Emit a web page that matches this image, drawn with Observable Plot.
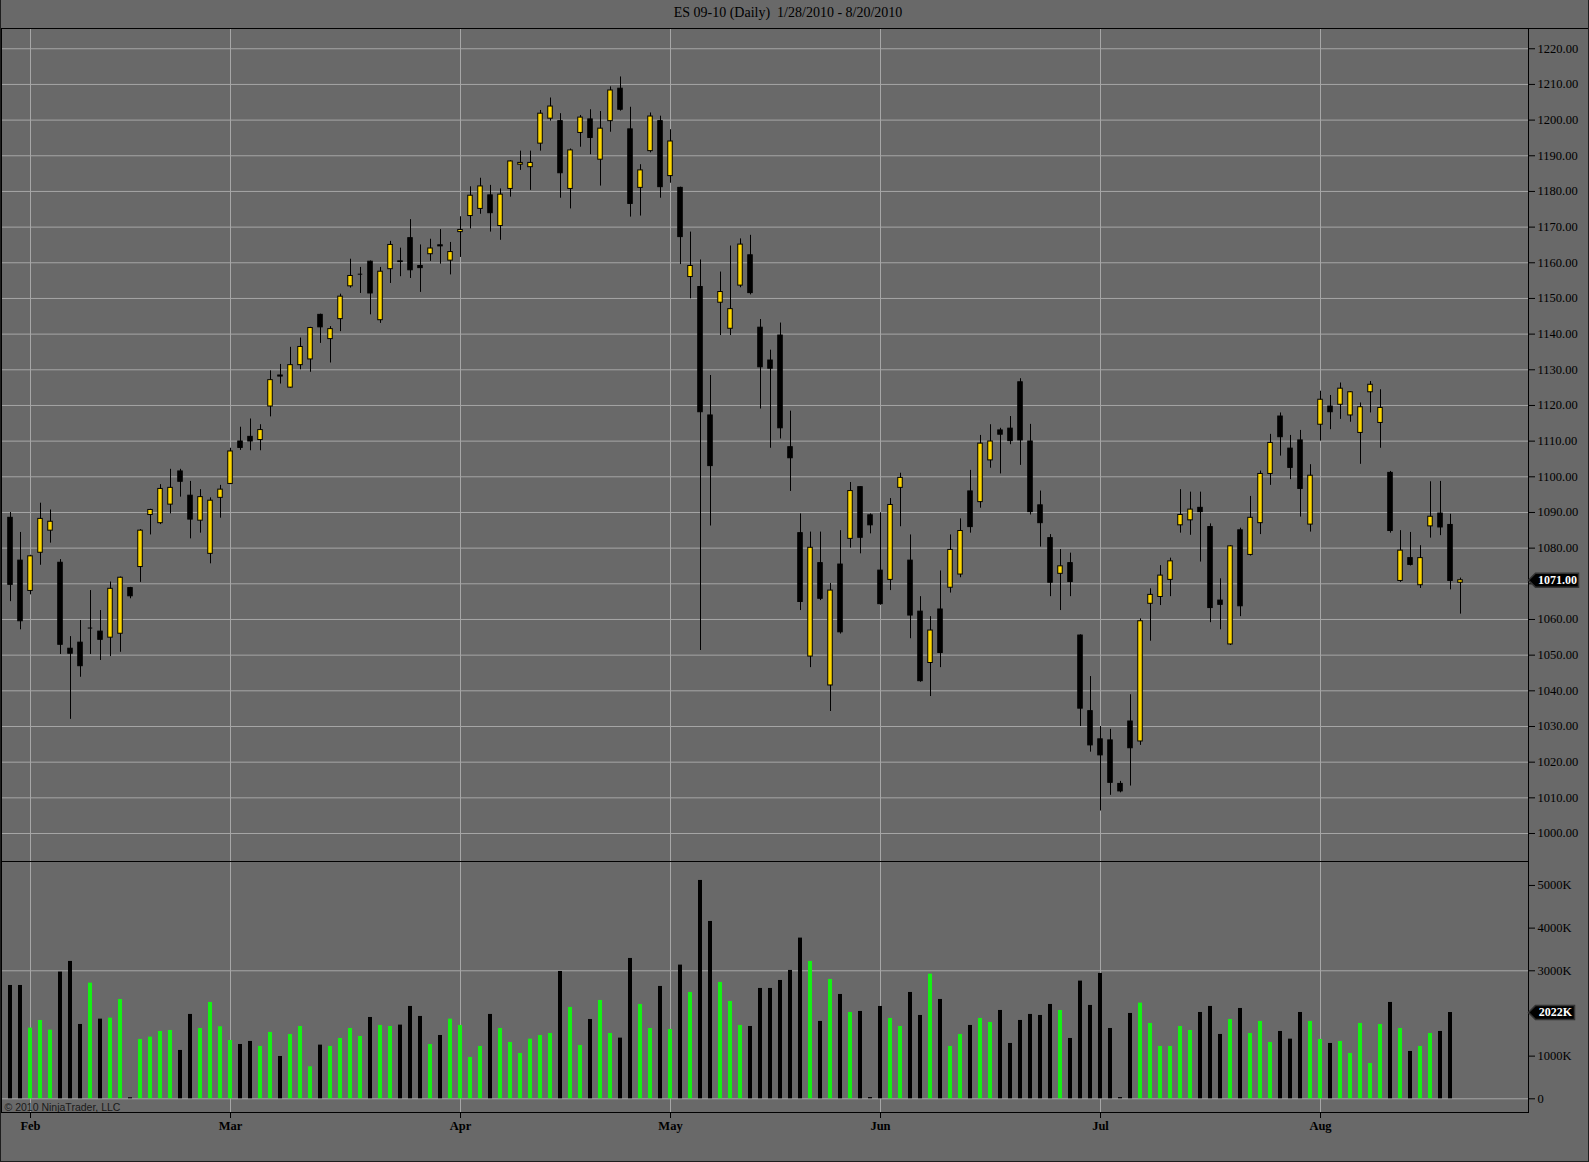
<!DOCTYPE html>
<html>
<head>
<meta charset="utf-8">
<script src="https://cdn.jsdelivr.net/npm/d3@7"></script>
<script src="https://cdn.jsdelivr.net/npm/@observablehq/plot@0.6"></script>
<style>
  body { margin: 0; background: #696969; }
  #chart { position: relative; width: 1589px; height: 1162px; background: #696969; overflow: hidden; }
  #title { position: absolute; top: 5px; left: 0; width: 1576px; text-align: center; font: 14px 'Liberation Serif', serif; white-space: pre; color: #000; }
  #price { position: absolute; top: 27px; left: 0; }
  #volume { position: absolute; top: 861px; left: 0; }
  #topline { position: absolute; top: 28px; left: 0; width: 1589px; height: 1px; background: #000; }
  #border { position: absolute; left: 0; top: 0; width: 1589px; height: 1162px; box-sizing: border-box; border: 1px solid #1e1e1e; border-top: none; pointer-events: none; }
</style>
</head>
<body>
<div id="chart">
  <div id="title">ES 09-10 (Daily)  1/28/2010 - 8/20/2010</div>
  <div id="price"></div>
  <div id="volume"></div>
  <div id="topline"></div>
  <div id="border"></div>
</div>
<script>
// ES 09-10 daily bars, 1/28/2010 - 8/20/2010 (Good Friday 4/2 has no bar)

const opens = [
  1088.5, 1076.5, 1068.0, 1078.7, 1084.9, 1075.9, 1051.8, 1053.5, 1057.6, 1056.6,
  1054.9, 1056.0, 1068.8, 1074.7, 1089.3, 1087.0, 1092.2, 1101.5, 1094.7, 1087.7,
  1078.4, 1094.1, 1098.0, 1109.9, 1111.2, 1110.3, 1119.7, 1128.4, 1125.0, 1131.3,
  1132.9, 1145.4, 1138.6, 1144.2, 1153.4, 1156.8, 1160.3, 1143.9, 1158.2, 1160.4,
  1166.9, 1159.1, 1162.4, 1164.9, 1160.6, 1168.6, 1173.1, 1175.1, 1178.9, 1170.3,
  1180.7, 1187.5, 1186.8, 1193.4, 1200.4, 1199.7, 1180.7, 1196.4, 1200.2, 1188.9,
  1199.7, 1208.8, 1197.4, 1181.0, 1191.3, 1199.7, 1184.3, 1181.0, 1156.0, 1153.2,
  1117.2, 1148.8, 1141.5, 1153.6, 1162.1, 1141.8, 1132.6, 1139.6, 1108.3, 1084.2,
  1049.6, 1075.8, 1041.5, 1075.4, 1082.6, 1097.1, 1089.2, 1073.7, 1071.1, 1096.9,
  1076.5, 1062.2, 1047.8, 1062.8, 1068.9, 1072.6, 1095.9, 1092.9, 1104.6, 1113.0,
  1113.5, 1126.5, 1109.9, 1092.0, 1082.8, 1072.8, 1075.8, 1055.5, 1034.3, 1026.4,
  1026.1, 1013.9, 1031.4, 1025.8, 1064.4, 1066.3, 1071.1, 1086.4, 1087.8, 1091.3,
  1085.9, 1065.3, 1053.0, 1085.0, 1078.1, 1087.0, 1100.8, 1116.9, 1107.9, 1110.2,
  1086.6, 1114.6, 1119.7, 1120.2, 1117.2, 1112.3, 1123.7, 1115.1, 1101.1, 1070.8,
  1077.2, 1069.6, 1086.1, 1089.7, 1086.5, 1070.3
]
const highs = [
  1090.0, 1084.4, 1078.0, 1092.6, 1090.7, 1076.8, 1055.2, 1059.7, 1068.1, 1062.5,
  1070.5, 1071.9, 1069.0, 1085.2, 1090.9, 1097.8, 1102.1, 1102.1, 1098.7, 1096.4,
  1094.1, 1097.6, 1108.0, 1113.9, 1116.2, 1114.6, 1129.7, 1131.5, 1136.3, 1138.9,
  1141.9, 1145.6, 1142.1, 1151.2, 1161.0, 1158.7, 1160.5, 1158.7, 1166.0, 1164.1,
  1172.1, 1165.0, 1166.6, 1169.3, 1165.7, 1172.9, 1181.3, 1183.7, 1181.7, 1180.7,
  1188.6, 1191.3, 1191.3, 1202.7, 1206.2, 1201.8, 1191.9, 1201.3, 1202.9, 1202.4,
  1209.3, 1212.1, 1203.6, 1187.5, 1202.0, 1201.1, 1197.3, 1181.2, 1168.6, 1160.8,
  1128.4, 1157.4, 1164.7, 1166.7, 1167.7, 1144.1, 1135.5, 1143.1, 1118.4, 1089.6,
  1084.5, 1084.5, 1070.1, 1084.9, 1098.4, 1097.2, 1089.6, 1089.9, 1093.9, 1101.0,
  1083.7, 1066.4, 1060.8, 1073.6, 1083.7, 1088.2, 1101.8, 1111.6, 1114.6, 1113.6,
  1116.9, 1127.5, 1114.7, 1096.0, 1083.8, 1079.6, 1078.6, 1055.7, 1044.0, 1030.0,
  1029.2, 1014.6, 1038.9, 1060.2, 1068.6, 1075.1, 1077.2, 1096.4, 1095.7, 1095.7,
  1086.8, 1071.4, 1080.7, 1085.6, 1094.5, 1101.6, 1111.9, 1117.9, 1111.6, 1113.0,
  1103.4, 1124.0, 1122.8, 1126.3, 1123.9, 1120.7, 1126.7, 1124.4, 1101.5, 1084.9,
  1084.4, 1080.7, 1098.6, 1098.7, 1089.5, 1071.6
]
const lows = [
  1065.0, 1057.1, 1066.9, 1075.2, 1081.4, 1050.2, 1032.0, 1043.8, 1050.2, 1048.5,
  1049.6, 1050.8, 1065.8, 1070.4, 1083.7, 1086.6, 1089.6, 1094.3, 1082.6, 1084.2,
  1075.6, 1088.4, 1097.8, 1107.4, 1107.3, 1107.3, 1116.8, 1126.0, 1124.8, 1130.0,
  1129.3, 1137.4, 1131.9, 1140.7, 1152.9, 1151.4, 1145.4, 1143.0, 1154.2, 1156.1,
  1155.6, 1151.7, 1160.4, 1159.6, 1156.6, 1161.5, 1169.5, 1173.6, 1168.6, 1166.3,
  1178.4, 1185.9, 1180.3, 1191.3, 1199.7, 1178.1, 1175.1, 1192.4, 1190.3, 1181.5,
  1196.6, 1202.5, 1172.8, 1173.1, 1190.8, 1178.1, 1182.3, 1159.5, 1149.9, 1051.3,
  1086.2, 1139.6, 1139.6, 1153.0, 1151.0, 1119.0, 1108.0, 1110.6, 1095.9, 1062.5,
  1046.5, 1065.3, 1034.2, 1055.9, 1080.0, 1078.4, 1084.0, 1064.0, 1068.1, 1086.0,
  1054.6, 1042.4, 1038.4, 1046.5, 1067.4, 1071.7, 1084.2, 1091.2, 1102.4, 1100.8,
  1109.0, 1103.2, 1089.3, 1080.3, 1066.4, 1062.5, 1066.4, 1030.0, 1022.8, 1006.3,
  1010.7, 1011.4, 1013.3, 1024.7, 1053.9, 1063.9, 1066.4, 1084.2, 1083.6, 1076.1,
  1059.1, 1057.1, 1052.7, 1060.8, 1077.8, 1083.8, 1097.6, 1105.8, 1099.2, 1088.7,
  1084.5, 1110.0, 1113.2, 1116.1, 1115.3, 1103.5, 1117.9, 1108.0, 1084.2, 1070.4,
  1075.0, 1068.7, 1082.8, 1083.5, 1068.3, 1061.5
]
const closes = [
  1069.7, 1059.5, 1077.7, 1088.2, 1087.4, 1052.9, 1050.4, 1046.9, 1057.6, 1054.3,
  1068.6, 1071.7, 1066.5, 1084.9, 1090.7, 1096.6, 1096.9, 1098.6, 1088.0, 1094.3,
  1093.3, 1096.4, 1107.1, 1108.1, 1109.9, 1113.1, 1127.1, 1128.1, 1131.3, 1136.4,
  1141.7, 1141.9, 1141.4, 1150.5, 1156.3, 1156.8, 1151.4, 1157.5, 1165.0, 1160.2,
  1157.9, 1158.5, 1164.0, 1164.6, 1163.0, 1169.2, 1178.8, 1181.4, 1173.9, 1179.1,
  1188.4, 1188.0, 1188.0, 1201.8, 1203.8, 1185.1, 1191.5, 1200.7, 1195.0, 1197.6,
  1208.3, 1202.9, 1176.5, 1185.9, 1201.0, 1181.2, 1194.0, 1167.2, 1159.1, 1118.1,
  1103.0, 1151.8, 1147.0, 1165.1, 1151.5, 1130.7, 1130.3, 1113.6, 1105.2, 1064.9,
  1080.1, 1065.8, 1068.1, 1056.4, 1096.0, 1082.9, 1086.4, 1064.3, 1092.1, 1099.7,
  1061.1, 1042.7, 1056.9, 1050.6, 1079.5, 1084.8, 1085.9, 1109.3, 1109.9, 1111.8,
  1110.0, 1110.2, 1090.1, 1087.0, 1070.3, 1074.9, 1070.5, 1035.0, 1024.7, 1021.9,
  1014.2, 1011.8, 1023.9, 1059.5, 1066.9, 1072.3, 1076.3, 1089.3, 1090.8, 1090.1,
  1063.2, 1064.1, 1080.5, 1063.7, 1088.5, 1100.8, 1109.5, 1111.1, 1102.5, 1096.6,
  1100.3, 1121.6, 1118.1, 1124.7, 1123.7, 1119.5, 1125.8, 1119.3, 1084.8, 1079.3,
  1075.3, 1077.2, 1088.8, 1085.8, 1070.8, 1071.0
]
// volume in thousands of contracts (last bar has none yet)
const volumes = [
  2656, 2656, 1656, 1836, 1609, 2969, 3219, 1742, 2711, 1867,
  1891, 2328, 25, 1391, 1445, 1578, 1602, 1133, 1977, 1648,
  2258, 1688, 1367, 1273, 1344, 1227, 1555, 992, 1508, 1695,
  750, 1258, 1227, 1414, 1648, 1461, 1906, 1719, 1695, 1727,
  2164, 1930, 1273, 1484, 1867, 1719, 969, 1227, 1977, 1648,
  1320, 1063, 1398, 1484, 1531, 2984, 2141, 1250, 1859, 2305,
  1531, 1422, 3289, 2211, 1648, 2633, 1625, 3133, 2492, 5117,
  4156, 2727, 2281, 1719, 1695, 2586, 2586, 2773, 3008, 3766,
  3219, 1813, 2797, 2445, 2023, 2047, 30, 2164, 1883, 1695,
  2492, 1953, 2922, 2328, 1227, 1508, 1719, 1883, 1789, 2070,
  1297, 1836, 1977, 1953, 2211, 2070, 1414, 2758, 2188, 2938,
  1648, 30, 2000, 2242, 1766, 1227, 1227, 1695, 1602, 2023,
  2164, 1508, 1859, 2117, 1531, 1813, 1320, 1578, 1398, 2023,
  1813, 1391, 1297, 1344, 1063, 1766, 828, 1742, 2258, 1648,
  1109, 1227, 1531, 1578, 2022, null
]

const monthStarts = ['2010-02-01', '2010-03-01', '2010-04-01', '2010-05-03', '2010-06-01', '2010-07-01', '2010-08-02']
const monthLabels = ['Feb', 'Mar', 'Apr', 'May', 'Jun', 'Jul', 'Aug']
const priceTicks = [1000, 1010, 1020, 1030, 1040, 1050, 1060, 1070, 1080, 1090, 1100, 1110,
                    1120, 1130, 1140, 1150, 1160, 1170, 1180, 1190, 1200, 1210, 1220]
const volumeTicks = [0, 1000, 2000, 3000, 4000, 5000]
const volumeGrid = [0, 3000]

const BG = '#696969'
const GRID = '#a6a6a6'
const UP = '#FFD700'
const VOL_UP = '#14F014'

// weekdays of the session calendar
function tradingDays(start, end, closed) {
  let out = []
  let d = new Date(start + 'T00:00:00Z')
  let last = new Date(end + 'T00:00:00Z')
  while (d <= last) {
    let wd = d.getUTCDay()
    let s = d.toISOString().slice(0, 10)
    if (wd !== 0 && wd !== 6 && !closed.includes(s)) out.push(s)
    d.setUTCDate(d.getUTCDate() + 1)
  }
  return out
}
const dates = tradingDays('2010-01-28', '2010-08-20', ['2010-04-02'])

const bars = dates.map((date, i) => ({
  date: date, open: opens[i], high: highs[i], low: lows[i], close: closes[i], volume: volumes[i]
}))
const monthName = Object.fromEntries(monthStarts.map((d, i) => [d, monthLabels[i]]))

const lastPrice = closes[closes.length - 1]
const lastVolume = volumes.filter(v => v != null).slice(-1)[0]

// left pointing flag for the last value on the right axis
function flagSymbol(w) {
  return {
    draw(context) {
      context.moveTo(0, 0)
      context.lineTo(7, -7)
      context.lineTo(w, -7)
      context.lineTo(w, 7)
      context.lineTo(7, 7)
      context.closePath()
    }
  }
}

// the flag hides the tick label it sits on
const priceLabel = d => (Math.abs(d - lastPrice) < 3 ? '' : d.toFixed(2))
const volumeLabel = d => (Math.abs(d - lastVolume) < 300 ? '' : d === 0 ? '0' : d + 'K')

const xBand = {type: 'band', domain: dates, range: [5, 1465], padding: 0, round: false}
const baseStyle = {background: BG, color: 'black', fontFamily: "'Liberation Serif', serif", fontSize: '12.5px', overflow: 'visible'}

/* Panel de precios */
let priceChart = Plot.plot({
  width: 1589,
  height: 834,
  marginTop: 1,
  marginBottom: 0,
  marginLeft: 1,
  marginRight: 61,
  style: baseStyle,
  x: {...xBand, axis: null},
  y: {domain: [992.15, 1225.68]},
  marks: [
    Plot.gridY(priceTicks, {stroke: GRID, strokeOpacity: 1}),
    Plot.gridX(monthStarts, {stroke: GRID, strokeOpacity: 1}),
    Plot.ruleX(bars, {x: 'date', y1: 'low', y2: 'high', stroke: 'black'}),
    Plot.barY(bars.filter(d => d.open !== d.close), {
      x: 'date',
      y1: 'open',
      y2: 'close',
      fill: d => (d.close > d.open ? UP : 'black'),
      stroke: 'black',
      insetLeft: 2.75,
      insetRight: 2.75,
    }),
    Plot.tickY(bars.filter(d => d.open === d.close), {x: 'date', y: 'close', stroke: 'black', insetLeft: 2.75, insetRight: 2.75}),
    Plot.axisY(priceTicks, {anchor: 'right', tickSize: 6, tickPadding: 3, tickFormat: priceLabel, label: null}),
    Plot.frame({stroke: 'black'}),
    Plot.dot([lastPrice], {y: d => d, frameAnchor: 'right', symbol: flagSymbol(50), fill: 'black', stroke: '#333'}),
    Plot.text([lastPrice], {y: d => d, frameAnchor: 'right', dx: 29, textAnchor: 'middle', text: d => d.toFixed(2), fill: 'white', fontWeight: 'bold', fontSize: 12}),
  ],
})
d3.select('#price').append(() => priceChart)

/* Panel de volumen */
let volumeChart = Plot.plot({
  width: 1589,
  height: 301,
  marginTop: 0,
  marginBottom: 50,
  marginLeft: 1,
  marginRight: 61,
  style: baseStyle,
  x: xBand,
  y: {domain: [-321, 5561]},
  marks: [
    Plot.gridY(volumeGrid, {stroke: GRID, strokeOpacity: 1}),
    Plot.gridX(monthStarts, {stroke: GRID, strokeOpacity: 1}),
    Plot.barY(bars.filter(d => d.volume != null), {
      x: 'date',
      y: 'volume',
      fill: d => (d.close >= d.open ? VOL_UP : 'black'),
      insetLeft: 3,
      insetRight: 3,
    }),
    Plot.text(['\u00a9 2010 NinjaTrader, LLC'], {
      frameAnchor: 'bottom-left',
      dx: 3,
      dy: -2,
      textAnchor: 'start',
      lineAnchor: 'bottom',
      fontFamily: "'Liberation Sans', sans-serif",
      fontSize: 10.5,
      fill: '#1a1a1a',
    }),
    Plot.axisX(monthStarts, {tickSize: 6, tickPadding: 3, tickFormat: d => monthName[d], fontWeight: 'bold', label: null}),
    Plot.axisY(volumeTicks, {anchor: 'right', tickSize: 6, tickPadding: 3, tickFormat: volumeLabel, label: null}),
    Plot.frame({stroke: 'black'}),
    Plot.dot([lastVolume], {y: d => d, frameAnchor: 'right', symbol: flagSymbol(46), fill: 'black', stroke: '#333'}),
    Plot.text([lastVolume], {y: d => d, frameAnchor: 'right', dx: 27, textAnchor: 'middle', text: d => d + 'K', fill: 'white', fontWeight: 'bold', fontSize: 12}),
  ],
})
d3.select('#volume').append(() => volumeChart)
</script>
</body>
</html>
